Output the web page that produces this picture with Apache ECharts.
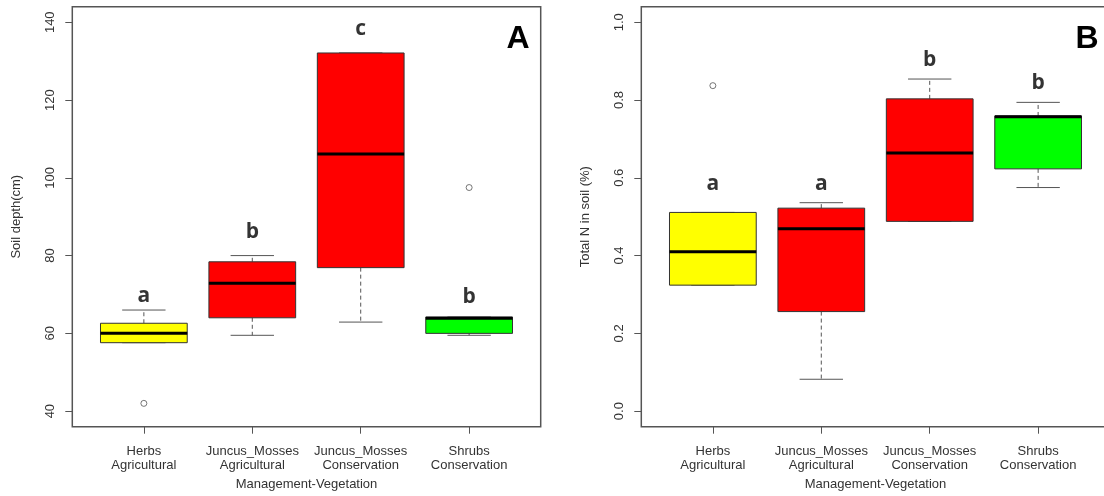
<!DOCTYPE html>
<html>
<head>
<meta charset="utf-8">
<script src="https://cdn.jsdelivr.net/npm/echarts@6/dist/echarts.min.js"></script>
<style>
  html, body { margin: 0; padding: 0; background: #fff; }
  #chart { width: 1104px; height: 496px; }
</style>
</head>
<body>
<div id="chart"></div>
<script>
// categories (x positions 1..4)
var categories = [
  "Herbs\nAgricultural",
  "Juncus_Mosses\nAgricultural",
  "Juncus_Mosses\nConservation",
  "Shrubs\nConservation"
];

// box stats per category: [lower whisker, Q1, median, Q3, upper whisker]
var depthBoxes = [
  [57.6, 57.6, 60.0, 62.6, 66.0],
  [59.5, 64.0, 72.9, 78.4, 80.0],
  [62.9, 76.9, 106.1, 132.1, 132.1],
  [59.5, 60.0, 63.9, 64.2, 64.2]
];
var nitrogenBoxes = [
  [0.324, 0.324, 0.410, 0.511, 0.511],
  [0.082, 0.256, 0.469, 0.522, 0.536],
  [0.488, 0.488, 0.664, 0.803, 0.854],
  [0.575, 0.623, 0.757, 0.759, 0.794]
];

// outliers: [category, value]
var depthOutliers = [[1, 42.0], [4, 97.5]];
var nitrogenOutliers = [[1, 0.837]];

// significance letters and their heights
var depthLetters = ["a", "b", "c", "b"];
var depthLetterY = [69.5, 86.0, 138.2, 69.3];
var nitrogenLetters = ["a", "a", "b", "b"];
var nitrogenLetterY = [0.584, 0.584, 0.904, 0.843];

// tick labels
var depthTicks = [40, 60, 80, 100, 120, 140];
var nitrogenTicks = [0, 0.2, 0.4, 0.6, 0.8, 1.0];
var catTicks = [1, 2, 3, 4];

var boxColors = ["#ffff00", "#ff0000", "#ff0000", "#00ff00"];
var txtFont = "Liberation Sans";

var chart = echarts.init(document.getElementById("chart"));

function boxRows(stats) {
  return stats.map(function (s, i) { return [i + 1].concat(s); });
}
function letterRows(letters, ys) {
  return letters.map(function (l, i) { return [i + 1, ys[i], l]; });
}

function renderBox(params, api) {
  var x = api.value(0);
  var lo = api.coord([x, api.value(1)]);
  var q1 = api.coord([x, api.value(2)]);
  var md = api.coord([x, api.value(3)]);
  var q3 = api.coord([x, api.value(4)]);
  var hi = api.coord([x, api.value(5)]);
  var half = api.size([0.8, 0])[0] / 2;
  var cx = q1[0];
  var dash = { stroke: "#555", lineWidth: 1, lineDash: [4, 3] };
  var solid = { stroke: "#555", lineWidth: 1 };
  return {
    type: "group",
    children: [
      { type: "line", shape: { x1: cx, y1: q3[1], x2: cx, y2: hi[1] }, style: dash },
      { type: "line", shape: { x1: cx, y1: q1[1], x2: cx, y2: lo[1] }, style: dash },
      { type: "line", shape: { x1: cx - half / 2, y1: hi[1], x2: cx + half / 2, y2: hi[1] }, style: solid },
      { type: "line", shape: { x1: cx - half / 2, y1: lo[1], x2: cx + half / 2, y2: lo[1] }, style: solid },
      {
        type: "rect",
        shape: { x: cx - half, y: q3[1], width: half * 2, height: q1[1] - q3[1] },
        style: { fill: boxColors[params.dataIndex], stroke: "#333", lineWidth: 1 }
      },
      { type: "line", shape: { x1: cx - half, y1: md[1], x2: cx + half, y2: md[1] }, style: { stroke: "#000", lineWidth: 3 } }
    ]
  };
}

function xAxisFor(gridIndex) {
  return {
    type: "value",
    gridIndex: gridIndex,
    position: "bottom",
    min: 0.34,
    max: 4.66,
    name: "Management-Vegetation",
    nameLocation: "middle",
    nameGap: 51,
    nameTextStyle: { fontFamily: txtFont, fontSize: 13, color: "#333", lineHeight: 14 },
    axisLine: { show: false, onZero: false },
    splitLine: { show: false },
    axisTick: { show: true, inside: false, customValues: catTicks, length: 7, lineStyle: { color: "#555" } },
    axisLabel: {
      customValues: catTicks,
      margin: 18,
      fontFamily: txtFont,
      fontSize: 13,
      lineHeight: 14,
      color: "#333",
      formatter: function (v) { return categories[Math.round(v) - 1]; }
    }
  };
}

function yAxisFor(gridIndex, min, max, ticks, name, fmt) {
  return {
    type: "value",
    gridIndex: gridIndex,
    position: "left",
    min: min,
    max: max,
    name: name,
    nameLocation: "middle",
    nameGap: 49,
    nameTextStyle: { fontFamily: txtFont, fontSize: 13, color: "#333" },
    axisLine: { show: false, onZero: false },
    splitLine: { show: false },
    axisTick: { show: true, inside: false, customValues: ticks, length: 7, lineStyle: { color: "#555" } },
    axisLabel: {
      customValues: ticks,
      rotate: 90,
      margin: 15,
      fontFamily: txtFont,
      fontSize: 13,
      color: "#333",
      formatter: fmt
    }
  };
}

function outlierSeries(idx, data) {
  return {
    type: "scatter",
    xAxisIndex: idx,
    yAxisIndex: idx,
    symbol: "circle",
    symbolSize: 6,
    itemStyle: { color: "rgba(255,255,255,0)", borderColor: "#555", borderWidth: 1 },
    data: data
  };
}

function letterSeries(idx, data) {
  return {
    type: "scatter",
    xAxisIndex: idx,
    yAxisIndex: idx,
    symbolSize: 1,
    itemStyle: { color: "rgba(0,0,0,0)" },
    label: {
      show: true,
      position: "inside",
      fontFamily: "Open Sans",
      fontWeight: "bold",
      fontSize: 21,
      lineHeight: 21,
      color: "#000",
      formatter: function (p) { return p.data[2]; }
    },
    data: data
  };
}

var option = {
  animation: false,
  backgroundColor: "#fff",
  grid: [
    { left: 72.3, top: 6.7, width: 468.4, height: 420, show: true, borderColor: "#555", borderWidth: 1.5, outerBoundsMode: "none" },
    { left: 641.3, top: 6.7, width: 468.4, height: 420, show: true, borderColor: "#555", borderWidth: 1.5, outerBoundsMode: "none" }
  ],
  xAxis: [xAxisFor(0), xAxisFor(1)],
  yAxis: [
    yAxisFor(0, 36, 144, depthTicks, "Soil depth(cm)", function (v) { return String(v); }),
    yAxisFor(1, -0.04, 1.04, nitrogenTicks, "Total N in soil (%)", function (v) { return v.toFixed(1); })
  ],
  graphic: [
    { type: "text", x: 518, y: 39.5, style: { text: "A", font: "bold 32px " + txtFont, fill: "#000", align: "center", verticalAlign: "middle" } },
    { type: "text", x: 1087, y: 39.5, style: { text: "B", font: "bold 32px " + txtFont, fill: "#000", align: "center", verticalAlign: "middle" } }
  ],
  series: [
    { type: "custom", xAxisIndex: 0, yAxisIndex: 0, renderItem: renderBox, encode: { x: 0, y: [1, 2, 3, 4, 5] }, data: boxRows(depthBoxes) },
    outlierSeries(0, depthOutliers),
    letterSeries(0, letterRows(depthLetters, depthLetterY)),
    { type: "custom", xAxisIndex: 1, yAxisIndex: 1, renderItem: renderBox, encode: { x: 0, y: [1, 2, 3, 4, 5] }, data: boxRows(nitrogenBoxes) },
    outlierSeries(1, nitrogenOutliers),
    letterSeries(1, letterRows(nitrogenLetters, nitrogenLetterY))
  ]
};

chart.setOption(option);
window.addEventListener("resize", function () { chart.resize(); });
</script>
</body>
</html>
